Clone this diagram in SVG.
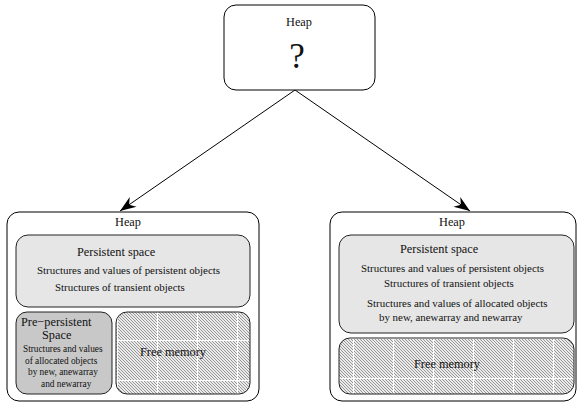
<svg xmlns="http://www.w3.org/2000/svg" width="578" height="403" viewBox="0 0 578 403" font-family="'Liberation Serif', 'DejaVu Serif', serif">
  <style>
    text { font-family: "Liberation Serif", "DejaVu Serif", serif; fill: #111; }
    .box { fill: #fff; stroke: #000; stroke-width: 1; }
    .pers { fill: #e6e6e6; stroke: #222; stroke-width: 1; }
    .pre { fill: #c8c8c8; stroke: #222; stroke-width: 1; }
    .outline { fill: none; stroke: #222; stroke-width: 1; }
    .edge { fill: none; stroke: #000; stroke-width: 1; }
    .t12 { font-size: 12.3px; }
    .t10 { font-size: 10.9px; }
    .t9 { font-size: 9.3px; }
  </style>
  <defs>
    <marker id="arrow" markerUnits="userSpaceOnUse" markerWidth="20" markerHeight="14" refX="0" refY="0" viewBox="-16 -7 18 14" orient="auto">
      <path d="M0,0 L-16,-6 L-11,0 L-16,6 Z" fill="#000"/>
    </marker>
    <!-- fine diagonal hatching -->
    <pattern id="hatch" patternUnits="userSpaceOnUse" width="3" height="3">
      <rect width="3" height="3" fill="#ebebeb"/>
      <path d="M-1,-1 L4,4 M-1,2 L1,4 M2,-1 L4,1" stroke="#8c8c8c" stroke-width="0.9"/>
    </pattern>
    <!-- white tiling seams over the hatching -->
    <pattern id="gridL" patternUnits="userSpaceOnUse" x="157" y="340" width="40" height="40">
      <path d="M0.5,0 V40 M0,0.5 H40" stroke="#fff" stroke-width="1"/>
    </pattern>
    <pattern id="gridR" href="#gridL" x="353" y="378"/>
  </defs>

  <!-- connectors -->
  <g id="connectors">
    <path class="edge" d="M295,90 L120,211" marker-end="url(#arrow)"/>
    <path class="edge" d="M295,90 L470,211" marker-end="url(#arrow)"/>
  </g>

  <!-- undetermined heap -->
  <g id="heap-top">
    <rect class="box" x="224" y="5" width="151" height="85" rx="12"/>
    <text class="t12" x="286" y="26">Heap</text>
    <text x="297" y="68" text-anchor="middle" font-size="35">?</text>
  </g>

  <!-- heap with pre-persistent space -->
  <g id="heap-left">
    <rect class="box" x="7" y="212" width="252" height="189" rx="12"/>
    <text class="t12" x="115" y="226">Heap</text>
    <g id="persistent-left">
      <rect class="pers" x="16" y="235" width="234" height="72" rx="12"/>
      <text class="t12" x="77" y="256">Persistent space</text>
      <text class="t10" x="37" y="274">Structures and values of persistent objects</text>
      <text class="t10" x="55" y="291">Structures of transient objects</text>
    </g>
    <g id="prepersistent-left">
      <rect class="pre" x="16" y="312" width="96" height="82" rx="11"/>
      <text class="t12" x="21" y="326">Pre−persistent</text>
      <text class="t12" x="42" y="339">Space</text>
      <text class="t9" x="23" y="352">Structures and values</text>
      <text class="t9" x="25" y="364">of allocated objects</text>
      <text class="t9" x="28" y="375">by new, anewarray</text>
      <text class="t9" x="41" y="387">and newarray</text>
    </g>
    <g id="free-left">
      <rect x="116" y="312" width="134" height="82" rx="11" fill="url(#hatch)"/>
      <rect x="116" y="312" width="134" height="82" rx="11" fill="url(#gridL)"/>
      <rect class="outline" x="116" y="312" width="134" height="82" rx="11"/>
      <text class="t12" x="140" y="356">Free memory</text>
    </g>
  </g>

  <!-- heap with merged persistent space -->
  <g id="heap-right">
    <rect class="box" x="330" y="212" width="246" height="189" rx="12"/>
    <text class="t12" x="439" y="226">Heap</text>
    <g id="persistent-right">
      <rect class="pers" x="339" y="235" width="235" height="98" rx="12"/>
      <text class="t12" x="400" y="253">Persistent space</text>
      <text class="t10" x="361" y="272">Structures and values of persistent objects</text>
      <text class="t10" x="384" y="287">Structures of transient objects</text>
      <text class="t10" x="367" y="307">Structures and values of allocated objects</text>
      <text class="t10" x="379" y="321">by new, anewarray and newarray</text>
    </g>
    <g id="free-right">
      <rect x="339" y="338" width="235" height="56" rx="11" fill="url(#hatch)"/>
      <rect x="339" y="338" width="235" height="56" rx="11" fill="url(#gridR)"/>
      <rect class="outline" x="339" y="338" width="235" height="56" rx="11"/>
      <text class="t12" x="414" y="368">Free memory</text>
    </g>
  </g>
</svg>
